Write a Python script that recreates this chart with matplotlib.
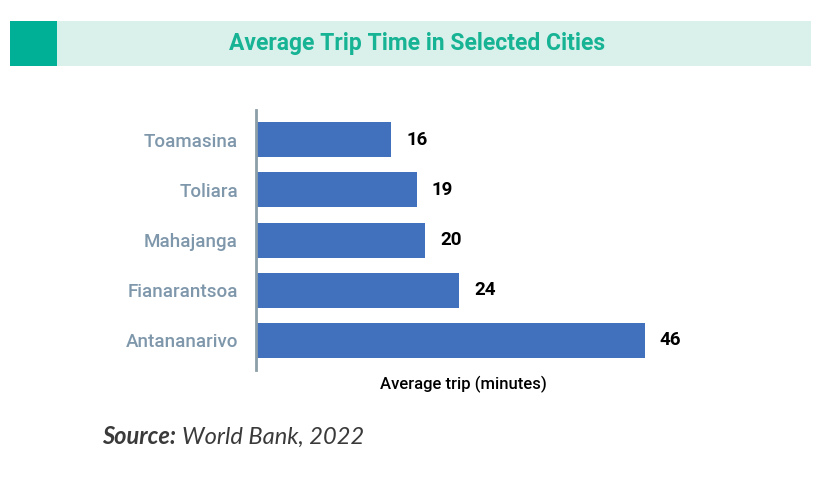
import matplotlib.pyplot as plt
from matplotlib.patches import Rectangle

# Données du graphique
villes = ["Toamasina", "Toliara", "Mahajanga", "Fianarantsoa", "Antananarivo"]
temps_trajet = [16, 19, 20, 24, 46]
etiquettes = ["16", "19", "20", "24", "46"]

plt.rcParams['font.family'] = ['Roboto', 'DejaVu Sans']

fig = plt.figure(figsize=(8.24, 4.78), dpi=100)

# Bandeau du titre
fig.patches.append(Rectangle((0.0121, 0.862), 0.972, 0.094, transform=fig.transFigure,
                             facecolor="#DAF0EA", edgecolor="none"))
fig.patches.append(Rectangle((0.0121, 0.862), 0.057, 0.094, transform=fig.transFigure,
                             facecolor="#00B096", edgecolor="none"))
fig.text(0.506, 0.909, "Average Trip Time in Selected Cities", ha="center", va="center",
         fontsize=16.5, fontweight="bold", color="#16B394")

ax = fig.add_axes([0.3107, 0.2259, 0.5024, 0.544])
y = list(range(len(villes)))
ax.barh(y, temps_trajet, height=0.7, color="#4171BD")
ax.set_yticks(y)
ax.set_yticklabels(villes, fontsize=13.5, color="#7F97AB", fontweight="medium")
ax.tick_params(axis="y", length=0, pad=13)
ax.set_xticks([])
ax.set_xlim(0, 49)
ax.set_ylim(4.6, -0.6)
for s in ["top", "right", "bottom"]:
    ax.spines[s].set_visible(False)
ax.spines["left"].set_color("#8C9EA8")
ax.spines["left"].set_linewidth(2)

for i, (v, lab) in enumerate(zip(temps_trajet, etiquettes)):
    ax.text(v + 1.8, i, lab, va="center", ha="left", fontsize=13.5,
            fontweight="bold", color="black")

ax.set_xlabel("Average trip (minutes)", fontsize=12, color="black", labelpad=4,
              fontweight="medium")

# Source
t1 = fig.text(0.124, 0.072, "Source:", fontsize=17, fontweight="bold", style="italic",
              color="#3A3A3A", family=["Lato", "DejaVu Sans"])
fig.canvas.draw()
bb = t1.get_window_extent().transformed(fig.transFigure.inverted())
fig.text(bb.x1 + 0.007, 0.072, "World Bank, 2022", fontsize=17, style="italic",
         color="#3A3A3A", family=["Lato", "DejaVu Sans"])

fig.savefig("out.png", dpi=100)
